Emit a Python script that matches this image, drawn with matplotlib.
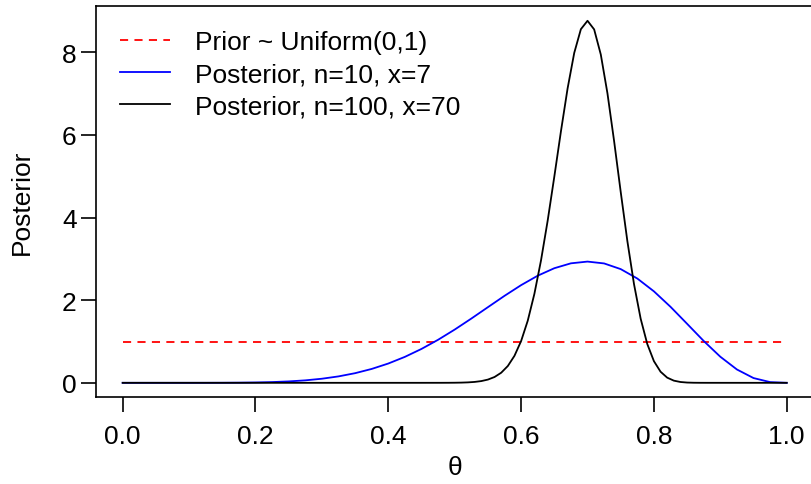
import matplotlib
matplotlib.use("Agg")
import matplotlib.pyplot as plt

# Prior: Uniform(0,1)
theta_prior = [0.0, 1.0]
dens_prior = [1.0, 1.0]

# Posterior n=10, x=7
theta_n10 = [0.0, 0.025, 0.05, 0.075, 0.1, 0.125, 0.15, 0.175, 0.2, 0.225,
             0.25, 0.275, 0.3, 0.325, 0.35, 0.375, 0.4, 0.425, 0.45, 0.475,
             0.5, 0.525, 0.55, 0.575, 0.6, 0.625, 0.65, 0.675, 0.7, 0.725,
             0.75, 0.775, 0.8, 0.825, 0.85, 0.875, 0.9, 0.925, 0.95, 0.975, 1.0]
dens_n10 = [0.0, 0.0, 0.000001, 0.00001, 0.0001, 0.0004, 0.0014, 0.0037, 0.0087, 0.0179,
            0.0340, 0.0598, 0.0990, 0.1555, 0.2332, 0.3361, 0.4671, 0.6285, 0.8207, 1.0421,
            1.2891, 1.5551, 1.8312, 2.1058, 2.3649, 2.5932, 2.7744, 2.8930, 2.9351, 2.8903,
            2.7530, 2.5249, 2.2146, 1.8401, 1.4282, 1.0124, 0.6314, 0.3227, 0.1152, 0.0173, 0.0]

# Posterior n=100, x=70
theta_n100 = [0.0, 0.45, 0.48, 0.49, 0.50, 0.51, 0.52, 0.53, 0.54, 0.55, 0.56, 0.57, 0.58,
              0.59, 0.60, 0.61, 0.62, 0.63, 0.64, 0.65, 0.66, 0.67, 0.68, 0.69, 0.70,
              0.71, 0.72, 0.73, 0.74, 0.75, 0.76, 0.77, 0.78, 0.79, 0.80, 0.81, 0.82,
              0.83, 0.84, 0.85, 0.86, 0.87, 0.88, 0.90, 1.0]
dens_n100 = [0.0, 0.0, 0.0004, 0.0010, 0.0023, 0.0051, 0.0107, 0.0216, 0.0419, 0.0783, 0.1409, 0.2441, 0.4071,
             0.6539, 1.011, 1.504, 2.154, 2.966, 3.926, 4.991, 6.091, 7.127, 7.987, 8.561, 8.765,
             8.556, 7.948, 7.011, 5.857, 4.621, 3.432, 2.390, 1.554, 0.939, 0.524, 0.2685, 0.1251,
             0.0526, 0.0198, 0.0065, 0.0019, 0.0005, 0.0001, 0.0, 0.0]

labels = ["Prior ~ Uniform(0,1)", "Posterior, n=10, x=7", "Posterior, n=100, x=70"]
xticks = [0.0, 0.2, 0.4, 0.6, 0.8, 1.0]
yticks = [0, 2, 4, 6, 8]

plt.rcParams['font.family'] = ['Liberation Sans', 'DejaVu Sans']
FS = 19

W, H = 811, 485
fig = plt.figure(figsize=(W / 100, H / 100), dpi=100)
left, right = 96.1, 813.3
bottom, top = 398.3, 7.3
ax = fig.add_axes([left / W, 1 - bottom / H, (right - left) / W, (bottom - top) / H])

LW = 1.3
ax.plot(theta_prior, dens_prior, color='red', lw=LW, dashes=(4.5, 3.5), label=labels[0])
ax.plot(theta_n10, dens_n10, color='blue', lw=LW, label=labels[1])
ax.plot(theta_n100, dens_n100, color='black', lw=LW, label=labels[2])

ymax = max(dens_n100)
ax.set_xlim(-0.04, 1.04)
ax.set_ylim(-0.04 * ymax, 1.04 * ymax)

ax.set_xticks(xticks)
ax.set_xticklabels([f"{t:.1f}" for t in xticks])
ax.set_yticks(yticks)
ax.set_yticklabels([str(t) for t in yticks])
ax.tick_params(axis='both', direction='out', length=11, width=1.2, labelsize=FS, colors='black')
ax.tick_params(axis='x', pad=8.5)
ax.tick_params(axis='y', pad=3)
for s in ax.spines.values():
    s.set_linewidth(1.2)

ax.set_xlabel("θ", fontsize=FS, labelpad=5)
ax.set_ylabel("Posterior", fontsize=FS, labelpad=20)

leg = ax.legend(loc='upper left', frameon=False, fontsize=FS, handlelength=1.9,
                handletextpad=0.95, labelspacing=0.32, borderaxespad=0.0, borderpad=0.0,
                bbox_to_anchor=(0.0335, 0.94))

fig.savefig("out.png", dpi=100)
